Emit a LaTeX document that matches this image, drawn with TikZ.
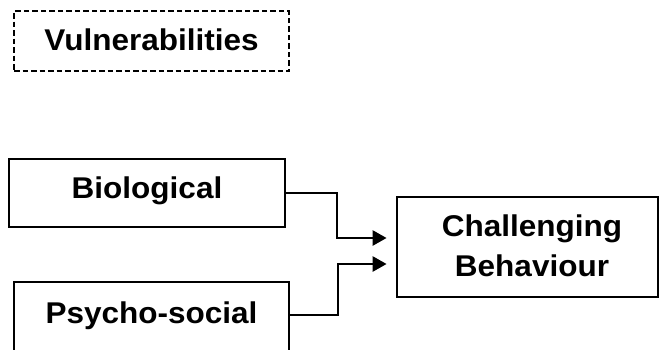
\documentclass[tikz,border=0pt]{standalone}
\usepackage{fontspec}
\setmainfont{Liberation Sans}[FakeStretch=1.05]
\usetikzlibrary{arrows.meta}
\tikzset{
  lbl/.style={font=\bfseries\fontsize{30}{40}\selectfont},
  box/.style={draw, line width=2.8pt, inner sep=0pt, lbl},
  dashbox/.style={box, line width=2.5pt, dash pattern=on 5.5pt off 3pt},
  arr/.style={line width=2.6pt, -{Triangle[length=14pt,width=15pt]}}
}
\begin{document}
\begin{tikzpicture}[x=1pt,y=-1pt]
  \clip (0,0) rectangle (664,349);
  \fill[white] (0,0) rectangle (664,349);

  % group heading
  \node[dashbox, anchor=base, minimum width=275, text height=39pt, text depth=21pt]
    (vul) at (151.5,50) {Vulnerabilities};

  % contributing factors
  \node[box, anchor=base, minimum width=276, text height=39.5pt, text depth=28.5pt]
    (bio) at (147,198.5) {Biological};
  \node[box, anchor=base, minimum width=275, text height=41pt, text depth=50pt]
    (psy) at (151.5,323) {Psycho-social};

  % outcome
  \node[box, minimum width=261, minimum height=100] (cb) at (527.5,247) {};
  \node[inner sep=0pt, align=center, lbl]
    (cbtext) at (532,246) {Challenging\\Behaviour};

  % arrow end points, just short of the outcome box
  \coordinate (inA) at ([xshift=-9pt]cb.west |- 0,238);
  \coordinate (inB) at ([xshift=-9pt]cb.west |- 0,264);

  \draw[arr] (bio.east) -- (337,193) |- (inA);
  \draw[arr] (psy.east |- 0,315) -- (338,315) |- (inB);
\end{tikzpicture}
\end{document}
